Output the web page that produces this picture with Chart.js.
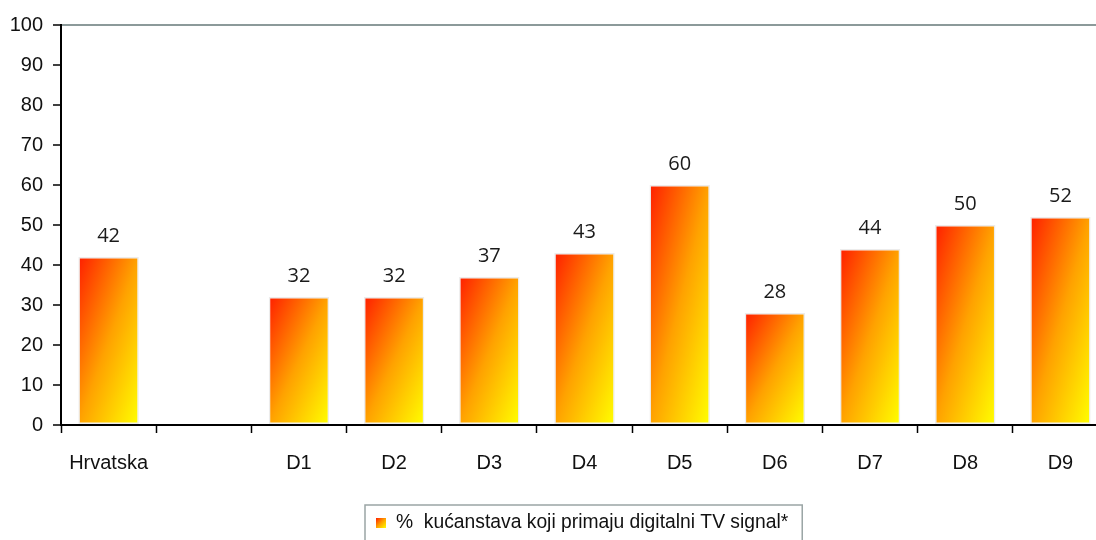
<!DOCTYPE html>
<html>
<head>
<meta charset="utf-8">
<script src="https://cdn.jsdelivr.net/npm/chart.js@4.4.1/dist/chart.umd.min.js"></script>
<style>
    html, body { margin: 0; padding: 0; overflow: hidden; background: #fff; }
    #wrap { width: 1108px; height: 540px; position: relative; }
</style>
</head>
<body>
<div id="wrap"><canvas id="chart"></canvas></div>
<script>
const categories = ['Hrvatska', '', 'D1', 'D2', 'D3', 'D4', 'D5', 'D6', 'D7', 'D8', 'D9'];
const values = [42, null, 32, 32, 37, 43, 60, 28, 44, 50, 52];
const seriesLabel = '%  kućanstava koji primaju digitalni TV signal*';
const yTicks = [0, 10, 20, 30, 40, 50, 60, 70, 80, 90, 100];

const BAR_PCT = 0.635;
const SANS = '"Liberation Sans", Arial, sans-serif';
const AXIS_FONT = { family: SANS, size: 20 };

// gradient like the office "diagonal" fill: red top-left, yellow bottom-right
function barGradient(ctx, left, top, w, h) {
    const d = 2 * w * h / (h * h + w * w);
    const g = ctx.createLinearGradient(left, top, left + h * d, top + w * d);
    g.addColorStop(0, '#ff1e00');
    g.addColorStop(0.5, '#ffa200');
    g.addColorStop(1, '#ffff00');
    return g;
}

function barFill(context) {
    const chart = context.chart;
    if (!chart.chartArea || context.type !== 'data') return '#ff9900';
    const v = values[context.dataIndex];
    if (v == null) return '#ff9900';
    const xs = chart.scales.x, ys = chart.scales.y;
    const cx = xs.getPixelForValue(context.dataIndex);
    const w = xs.width / categories.length * BAR_PCT;
    const top = ys.getPixelForValue(v);
    const bottom = ys.getPixelForValue(0);
    return barGradient(chart.ctx, cx - w / 2, top, w, bottom - top);
}

const valueLabels = {
    id: 'valueLabels',
    afterDatasetsDraw(chart) {
        const ctx = chart.ctx;
        const meta = chart.getDatasetMeta(0);
        ctx.save();
        ctx.font = '20px "Open Sans", sans-serif';
        ctx.fillStyle = '#1a1a1a';
        ctx.textAlign = 'center';
        ctx.textBaseline = 'middle';
        meta.data.forEach((bar, i) => {
            if (values[i] == null) return;
            ctx.fillText(String(values[i]), bar.x, bar.y - 21);
        });
        ctx.restore();
    }
};

const boxLegend = {
    id: 'boxLegend',
    afterDraw(chart) {
        const ctx = chart.ctx;
        const text = chart.data.datasets[0].label;
        ctx.save();
        ctx.font = '19.3px ' + SANS;
        const tw = ctx.measureText(text).width;
        const boxW = tw + 45;
        const left = 365;
        const top = 505;
        ctx.strokeStyle = '#9aa5a5';
        ctx.lineWidth = 1.5;
        ctx.strokeRect(left, top, boxW, 50);
        ctx.fillStyle = barGradient(ctx, left + 11, 518, 10, 10);
        ctx.fillRect(left + 11, 518, 10, 10);
        ctx.fillStyle = '#111';
        ctx.textBaseline = 'middle';
        ctx.fillText(text, left + 31, 523);
        ctx.restore();
    }
};

new Chart(document.getElementById('chart'), {
    type: 'bar',
    data: {
        labels: categories,
        datasets: [{
            label: seriesLabel,
            data: values,
            backgroundColor: barFill,
            borderColor: '#ececec',
            borderWidth: 1.5,
            borderSkipped: false,
            categoryPercentage: 1,
            barPercentage: BAR_PCT
        }]
    },
    options: {
        responsive: true,
        maintainAspectRatio: false,
        animation: false,
        layout: { padding: { top: 25, right: 0, bottom: 47, left: 0 } },
        plugins: {
            legend: { display: false },
            tooltip: { enabled: false }
        },
        scales: {
            x: {
                grid: {
                    offset: true,
                    drawOnChartArea: false,
                    tickLength: 8,
                    tickColor: '#000',
                    tickWidth: 1.5
                },
                border: { color: '#000', width: 2 },
                ticks: {
                    color: '#111',
                    font: AXIS_FONT,
                    padding: 18,
                    maxRotation: 0,
                    autoSkip: false
                }
            },
            y: {
                min: 0,
                max: 100,
                afterFit(scale) { scale.width = 61; },
                afterBuildTicks(scale) { scale.ticks = yTicks.map(v => ({ value: v })); },
                grid: {
                    color: (c) => c.tick && c.tick.value === 100 ? '#8c9a9a' : 'rgba(0,0,0,0)',
                    lineWidth: 2,
                    tickLength: 8,
                    tickColor: '#000',
                    tickWidth: 1.5
                },
                border: { color: '#000', width: 2 },
                ticks: {
                    color: '#111',
                    font: AXIS_FONT,
                    padding: 10
                }
            }
        }
    },
    plugins: [valueLabels, boxLegend]
});
</script>
</body>
</html>
